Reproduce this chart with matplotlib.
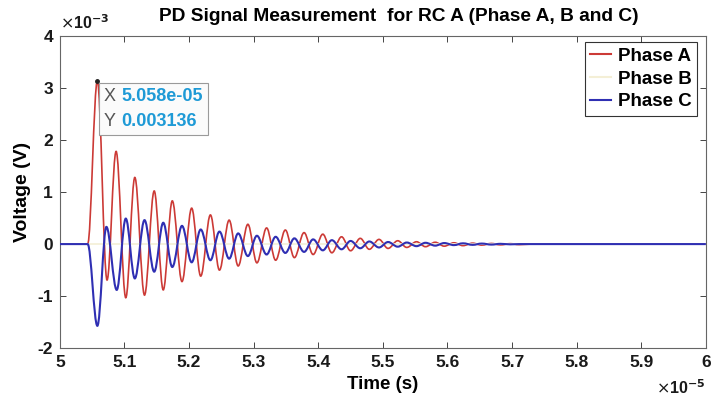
import matplotlib
matplotlib.use("Agg")
import matplotlib.pyplot as plt
from matplotlib.path import Path
from matplotlib.patches import PathPatch
from matplotlib.offsetbox import TextArea, HPacker, VPacker, AnnotationBbox

plt.rcParams['font.family'] = ['Liberation Sans', 'DejaVu Sans']

# ---- data (time in units of 1e-5 s, voltage in units of 1e-3 V) ----
title = "PD Signal Measurement  for RC A (Phase A, B and C)"
series_names = ["Phase A", "Phase B", "Phase C"]

# Phase A: extrema (start of pulse, peaks/troughs, return to rest)
phaseA_t = [5.0, 5.043, 5.058, 5.073, 5.087, 5.102, 5.116, 5.131, 5.146, 5.160, 5.174,
            5.189, 5.204, 5.218, 5.233, 5.247, 5.262, 5.276, 5.291, 5.305, 5.320,
            5.334, 5.349, 5.363, 5.378, 5.392, 5.407, 5.421, 5.436, 5.450, 5.465,
            5.479, 5.494, 5.508, 5.523, 5.537, 5.552, 5.566, 5.581, 5.595, 5.610,
            5.624, 5.639, 5.653, 5.668, 5.682, 5.697, 5.711, 5.730, 6.0]
phaseA_v = [0.0, 0.0, 3.136, -0.69, 1.78, -1.03, 1.28, -0.98, 1.02, -0.88, 0.83,
            -0.72, 0.69, -0.615, 0.56, -0.50, 0.46, -0.42, 0.38, -0.36, 0.31,
            -0.31, 0.27, -0.26, 0.22, -0.20, 0.19, -0.167, 0.14, -0.128, 0.11,
            -0.10, 0.09, -0.083, 0.064, -0.064, 0.045, -0.05, 0.035, -0.04, 0.025,
            -0.03, 0.018, -0.02, 0.012, -0.015, 0.008, -0.01, 0.0, 0.0]

# Phase B: flat, barely visible
phaseB_t = [5.0, 6.0]
phaseB_v = [0.0, 0.0]

# Phase C
phaseC_t = [5.0, 5.043, 5.058, 5.072, 5.088, 5.102, 5.116, 5.131, 5.146, 5.160, 5.174,
            5.189, 5.204, 5.218, 5.233, 5.247, 5.262, 5.276, 5.291, 5.305, 5.320,
            5.334, 5.349, 5.363, 5.378, 5.392, 5.407, 5.421, 5.436, 5.450, 5.465,
            5.479, 5.494, 5.508, 5.523, 5.537, 5.552, 5.566, 5.581, 5.595, 5.610,
            5.624, 5.639, 5.653, 5.668, 5.682, 5.697, 5.711, 5.730, 6.0]
phaseC_v = [0.0, 0.0, -1.57, 0.33, -0.88, 0.49, -0.66, 0.46, -0.53, 0.41, -0.44,
            0.35, -0.35, 0.28, -0.31, 0.24, -0.28, 0.205, -0.23, 0.16, -0.20,
            0.14, -0.17, 0.11, -0.15, 0.09, -0.12, 0.075, -0.10, 0.06, -0.08,
            0.05, -0.065, 0.04, -0.05, 0.03, -0.04, 0.025, -0.03, 0.02, -0.02,
            0.015, -0.015, 0.01, -0.01, 0.005, -0.005, 0.0, 0.0, 0.0]

x_ticks = [5, 5.1, 5.2, 5.3, 5.4, 5.5, 5.6, 5.7, 5.8, 5.9, 6]
x_ticklabels = ["5", "5.1", "5.2", "5.3", "5.4", "5.5", "5.6", "5.7", "5.8", "5.9", "6"]
y_ticks = [-2, -1, 0, 1, 2, 3, 4]
y_ticklabels = ["-2", "-1", "0", "1", "2", "3", "4"]

colors = ["#cc3a36", "#f4efd6", "#2f2fb3"]


def smooth_path(ts, vs):
    """Cubic Bezier through the listed points with horizontal tangents at each."""
    verts = [(ts[0], vs[0])]
    codes = [Path.MOVETO]
    for i in range(1, len(ts)):
        t0, v0, t1, v1 = ts[i - 1], vs[i - 1], ts[i], vs[i]
        dt = t1 - t0
        verts += [(t0 + dt * 0.36, v0), (t1 - dt * 0.36, v1), (t1, v1)]
        codes += [Path.CURVE4] * 3
    return Path(verts, codes)


fig = plt.figure(figsize=(7.13, 4.03), dpi=100)
ax = fig.add_axes([0.084, 0.136, 0.906, 0.775])

ax.add_patch(PathPatch(smooth_path(phaseA_t, phaseA_v), fill=False,
                       edgecolor=colors[0], lw=1.2, zorder=2))
ax.plot(phaseB_t, phaseB_v, color=colors[1], lw=1.2, zorder=2.5)
ax.add_patch(PathPatch(smooth_path(phaseC_t, phaseC_v), fill=False,
                       edgecolor=colors[2], lw=1.5, zorder=3))

# legend proxies
handles = [ax.plot([], [], color=c, lw=1.5)[0] for c in colors]
leg = ax.legend(handles, series_names, loc="upper right",
                bbox_to_anchor=(697 / 713, 1 - 42 / 403), bbox_transform=fig.transFigure,
                prop={'weight': 'bold', 'size': 13.5}, frameon=True, fancybox=False,
                edgecolor="black", handlelength=1.1, handletextpad=0.35,
                borderpad=0.3, labelspacing=0.3, borderaxespad=0.0)
leg.get_frame().set_linewidth(0.8)

ax.set_xlim(5, 6)
ax.set_ylim(-2, 4)
ax.set_xticks(x_ticks)
ax.set_xticklabels(x_ticklabels)
ax.set_yticks(y_ticks)
ax.set_yticklabels(y_ticklabels)
ax.tick_params(direction="in", top=True, right=True, length=4, width=0.7,
               colors="#444444", labelcolor="#1a1a1a", labelsize=12.5, pad=5)
for lab in ax.get_xticklabels() + ax.get_yticklabels():
    lab.set_fontweight("bold")
for s in ax.spines.values():
    s.set_color("#666666")
    s.set_linewidth(0.8)

ax.set_title(title, fontsize=13.8, fontweight="bold", pad=11, x=0.525)
ax.set_ylabel("Voltage (V)", fontsize=14, fontweight="bold", labelpad=5)
ax.set_xlabel("Time (s)", fontsize=13.5, fontweight="bold", labelpad=4)

ax.text(0.0, 1.012, r"$\times$10$^{\mathbf{-3}}$", transform=ax.transAxes,
        fontsize=11.5, fontweight="bold", ha="left", va="bottom", color="#1a1a1a")
ax.text(1.0, -0.095, r"$\times$10$^{\mathbf{-5}}$", transform=ax.transAxes,
        fontsize=11.5, fontweight="bold", ha="right", va="top", color="#1a1a1a")

# data tip at the Phase A maximum
imax = max(range(len(phaseA_v)), key=lambda i: phaseA_v[i])
tx, ty = phaseA_t[imax], phaseA_v[imax]
ax.plot([tx], [ty], marker="o", ms=2.5, color="#222222", zorder=5)

lab_style = dict(fontsize=13, color="#555555")
val_style = dict(fontsize=13, color="#1e9ad6", fontweight="bold")
row_x = HPacker(children=[TextArea("X", textprops=lab_style),
                          TextArea("%.3fe-05" % tx, textprops=val_style)],
                align="baseline", pad=0, sep=4)
row_y = HPacker(children=[TextArea("Y", textprops=lab_style),
                          TextArea("%.6f" % (ty / 1000.0), textprops=val_style)],
                align="baseline", pad=0, sep=4)
tip_box = VPacker(children=[row_x, row_y], align="left", pad=0, sep=6)
ab = AnnotationBbox(tip_box, (tx, ty), xybox=(4.5, -5.0), boxcoords="offset points",
                    box_alignment=(0, 1), frameon=True, pad=0.35,
                    bboxprops=dict(boxstyle="square,pad=0.35", fc="#fbfbfb",
                                   ec="#9a9a9a", lw=0.8), zorder=6)
ax.add_artist(ab)

fig.savefig("out.png", dpi=100)
